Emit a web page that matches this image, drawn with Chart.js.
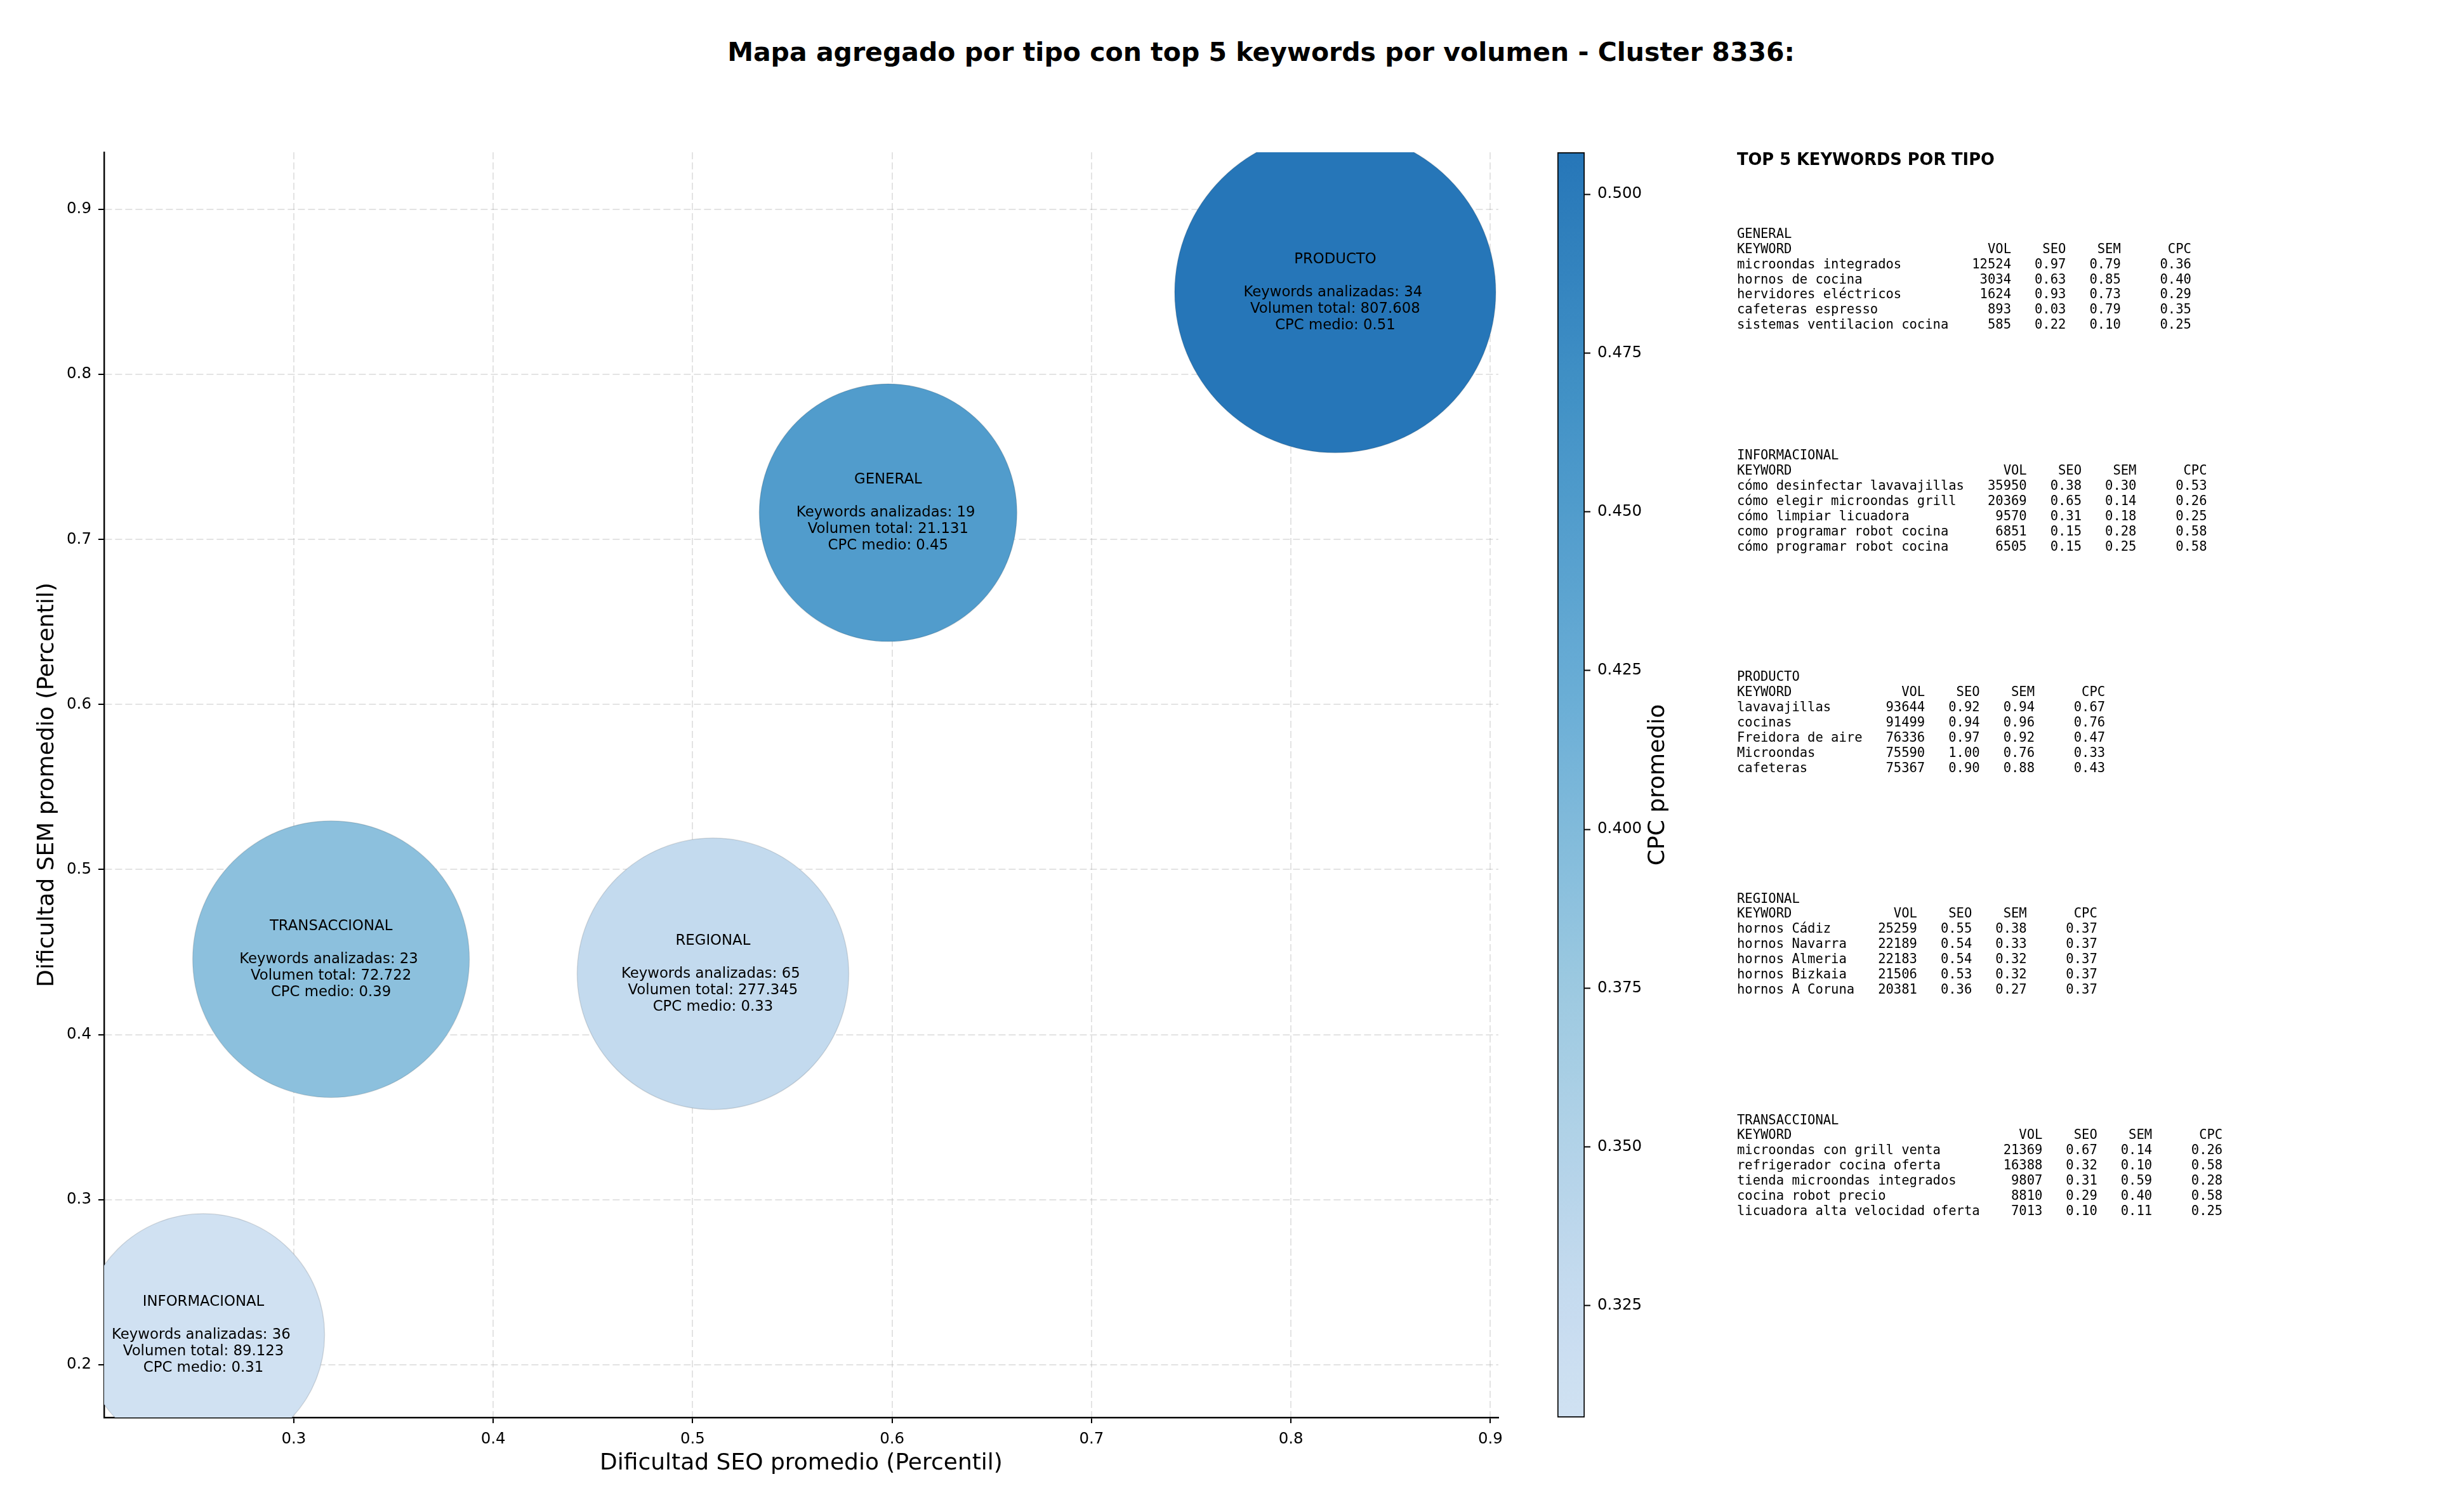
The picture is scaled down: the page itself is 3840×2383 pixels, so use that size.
<!DOCTYPE html>
<html>
<head>
<meta charset="utf-8">
<script src="https://cdn.jsdelivr.net/npm/chart.js@4.4.0/dist/chart.umd.min.js"></script>
<style>
  body { margin: 0; background: #fff; width: 3840px; height: 2383px; position: relative; overflow: hidden; }
  #main { position: absolute; left: 0; top: 0; }
  #cbar { position: absolute; left: 2380px; top: 0; }
  #titulo { position: absolute; left: 1987px; top: 58.6px; transform: translateX(-50%); white-space: nowrap;
            font: bold 41px 'DejaVu Sans'; line-height: 1.164; color: #000; }
  #toptitulo { position: absolute; left: 2737px; top: 237px; font: bold 25.7px 'DejaVu Sans'; line-height: 1.164; color: #000; }
  pre.tabla { position: absolute; left: 2737px; margin: 0; font: 20.5px 'DejaVu Sans Mono'; line-height: 23.9px; color: #000; }
</style>
</head>
<body>
<div id="titulo">Mapa agregado por tipo con top 5 keywords por volumen - Cluster 8336:</div>
<canvas id="main" width="2380" height="2383"></canvas>
<canvas id="cbar" width="400" height="2383"></canvas>
<div id="toptitulo">TOP 5 KEYWORDS POR TIPO</div>
<script>
// datos agregados por tipo
var tipos = ['GENERAL', 'INFORMACIONAL', 'PRODUCTO', 'REGIONAL', 'TRANSACCIONAL'];
var seoMedio = [0.598, 0.2547, 0.8222, 0.5102, 0.3187];
var semMedio = [0.7162, 0.2181, 0.8498, 0.4368, 0.4457];
var cpcMedio = [0.450, 0.3074, 0.5066, 0.330, 0.390];
var numKeywords = [19, 36, 34, 65, 23];
var volumenTotal = [21131, 89123, 807608, 277345, 72722];
var tamanoBurbuja = [203, 191, 253, 214, 218];

var xTicks = [0.3, 0.4, 0.5, 0.6, 0.7, 0.8, 0.9];
var yTicks = [0.2, 0.3, 0.4, 0.5, 0.6, 0.7, 0.8, 0.9];
var cbarTicks = [0.325, 0.350, 0.375, 0.400, 0.425, 0.450, 0.475, 0.500];

// top 5 keywords: keyword, vol, seo, sem, cpc
var topGeneral = [
  ['microondas integrados', 12524, 0.97, 0.79, 0.36],
  ['hornos de cocina', 3034, 0.63, 0.85, 0.40],
  ['hervidores eléctricos', 1624, 0.93, 0.73, 0.29],
  ['cafeteras espresso', 893, 0.03, 0.79, 0.35],
  ['sistemas ventilacion cocina', 585, 0.22, 0.10, 0.25]
];
var topInformacional = [
  ['cómo desinfectar lavavajillas', 35950, 0.38, 0.30, 0.53],
  ['cómo elegir microondas grill', 20369, 0.65, 0.14, 0.26],
  ['cómo limpiar licuadora', 9570, 0.31, 0.18, 0.25],
  ['como programar robot cocina', 6851, 0.15, 0.28, 0.58],
  ['cómo programar robot cocina', 6505, 0.15, 0.25, 0.58]
];
var topProducto = [
  ['lavavajillas', 93644, 0.92, 0.94, 0.67],
  ['cocinas', 91499, 0.94, 0.96, 0.76],
  ['Freidora de aire', 76336, 0.97, 0.92, 0.47],
  ['Microondas', 75590, 1.00, 0.76, 0.33],
  ['cafeteras', 75367, 0.90, 0.88, 0.43]
];
var topRegional = [
  ['hornos Cádiz', 25259, 0.55, 0.38, 0.37],
  ['hornos Navarra', 22189, 0.54, 0.33, 0.37],
  ['hornos Almeria', 22183, 0.54, 0.32, 0.37],
  ['hornos Bizkaia', 21506, 0.53, 0.32, 0.37],
  ['hornos A Coruna', 20381, 0.36, 0.27, 0.37]
];
var topTransaccional = [
  ['microondas con grill venta', 21369, 0.67, 0.14, 0.26],
  ['refrigerador cocina oferta', 16388, 0.32, 0.10, 0.58],
  ['tienda microondas integrados', 9807, 0.31, 0.59, 0.28],
  ['cocina robot precio', 8810, 0.29, 0.40, 0.58],
  ['licuadora alta velocidad oferta', 7013, 0.10, 0.11, 0.25]
];

// mapa de color Blues (recortado)
var blues = [
  [0, 247, 251, 255], [0.125, 222, 235, 247], [0.25, 198, 219, 239], [0.375, 158, 202, 225],
  [0.5, 107, 174, 214], [0.625, 66, 146, 198], [0.75, 33, 113, 181], [0.875, 8, 81, 156], [1, 8, 48, 107]
];
var cpcMin = Math.min.apply(null, cpcMedio);
var cpcMax = Math.max.apply(null, cpcMedio);

function colorNorm(n) {
  var t = 0.2 + 0.53 * n;
  for (var k = 1; k < blues.length; k++) {
    if (t <= blues[k][0]) {
      var a = blues[k - 1], b = blues[k];
      var f = (t - a[0]) / (b[0] - a[0]);
      return 'rgb(' + [1, 2, 3].map(function (j) { return Math.round(a[j] + (b[j] - a[j]) * f); }).join(',') + ')';
    }
  }
  return 'rgb(8,48,107)';
}
function colorCPC(v) { return colorNorm((v - cpcMin) / (cpcMax - cpcMin)); }
function miles(v) { return String(v).replace(/\B(?=(\d{3})+(?!\d))/g, '.'); }

var fuente = 'DejaVu Sans';

var etiquetas = {
  id: 'etiquetas',
  afterDraw: function (chart) {
    var ctx = chart.ctx, xs = chart.scales.x, ys = chart.scales.y;
    ctx.save();
    ctx.font = '22.8px "' + fuente + '"';
    ctx.fillStyle = '#000';
    ctx.textAlign = 'center';
    ctx.textBaseline = 'middle';
    tipos.forEach(function (t, i) {
      var px = xs.getPixelForValue(seoMedio[i]);
      var py = ys.getPixelForValue(semMedio[i]);
      var lineas = [t, '', 'Keywords analizadas: ' + numKeywords[i] + ' ',
        'Volumen total: ' + miles(volumenTotal[i]), 'CPC medio: ' + cpcMedio[i].toFixed(2)];
      lineas.forEach(function (l, k) { ctx.fillText(l, px, py + (k - 2) * 26); });
    });
    ctx.restore();
  }
};

var chart = new Chart(document.getElementById('main'), {
  type: 'bubble',
  data: {
    datasets: [{
      data: tipos.map(function (t, i) { return { x: seoMedio[i], y: semMedio[i], r: tamanoBurbuja[i] }; }),
      backgroundColor: cpcMedio.map(colorCPC),
      borderColor: 'rgba(0,0,0,0.12)',
      borderWidth: 1.5,
      clip: 0
    }]
  },
  options: {
    responsive: false,
    animation: false,
    devicePixelRatio: 1,
    layout: { autoPadding: false, padding: { top: 240, right: 19, left: 0, bottom: 0 } },
    plugins: { legend: { display: false }, tooltip: { enabled: false } },
    scales: {
      x: {
        type: 'linear', min: 0.2049, max: 0.904, z: 1,
        afterBuildTicks: function (s) { s.ticks = xTicks.map(function (v) { return { value: v }; }); },
        afterFit: function (s) { s.height = 149; },
        ticks: { font: { family: fuente, size: 24.5 }, color: '#000', padding: 11,
                 callback: function (v) { return Number(v).toFixed(1); } },
        grid: { color: 'rgba(176,176,176,0.35)', lineWidth: 2, tickColor: '#000', tickLength: 9, tickWidth: 2 },
        border: { color: '#000', width: 2.4, dash: [11, 5] },
        title: { display: true, text: 'Dificultad SEO promedio (Percentil)', color: '#000',
                 font: { family: fuente, size: 36 }, padding: { top: 0, bottom: 55 } }
      },
      y: {
        type: 'linear', min: 0.168, max: 0.9346, z: 1,
        afterBuildTicks: function (s) { s.ticks = yTicks.map(function (v) { return { value: v }; }); },
        afterFit: function (s) { s.width = 164; },
        ticks: { font: { family: fuente, size: 24.5 }, color: '#000', padding: 11,
                 callback: function (v) { return Number(v).toFixed(1); } },
        grid: { color: 'rgba(176,176,176,0.35)', lineWidth: 2, tickColor: '#000', tickLength: 9, tickWidth: 2 },
        border: { color: '#000', width: 2.4, dash: [11, 5] },
        title: { display: true, text: 'Dificultad SEM promedio (Percentil)', color: '#000',
                 font: { family: fuente, size: 36 }, padding: { top: 53, bottom: 0 } }
      }
    }
  },
  plugins: [etiquetas]
});

// barra de color
function gradiente(c) {
  var area = c.chartArea;
  if (!area) return colorNorm(0.5);
  var g = c.ctx.createLinearGradient(0, area.bottom, 0, area.top);
  for (var k = 0; k <= 40; k++) g.addColorStop(k / 40, colorNorm(k / 40));
  return g;
}
var etiquetaCbar = {
  id: 'etiquetaCbar',
  afterDraw: function (c) {
    var ctx = c.ctx;
    ctx.save();
    ctx.translate(233, (c.chartArea.top + c.chartArea.bottom) / 2);
    ctx.rotate(-Math.PI / 2);
    ctx.font = '36px "' + fuente + '"';
    ctx.fillStyle = '#000';
    ctx.textAlign = 'center';
    ctx.textBaseline = 'middle';
    ctx.fillText('CPC promedio', 0, 0);
    ctx.restore();
  }
};
new Chart(document.getElementById('cbar'), {
  type: 'bar',
  data: {
    labels: ['CPC'],
    datasets: [{
      data: [[cpcMin, cpcMax]],
      backgroundColor: function (ctx) { return gradiente(ctx.chart); },
      borderColor: '#000', borderWidth: 2, borderSkipped: false,
      barPercentage: 1, categoryPercentage: 1
    }]
  },
  options: {
    responsive: false,
    animation: false,
    devicePixelRatio: 1,
    layout: { padding: { left: 74, top: 240, right: 0, bottom: 149 } },
    plugins: { legend: { display: false }, tooltip: { enabled: false } },
    scales: {
      x: { display: false },
      y: {
        position: 'right', min: cpcMin, max: cpcMax,
        afterBuildTicks: function (s) { s.ticks = cbarTicks.map(function (v) { return { value: v }; }); },
        afterFit: function (s) { s.width = 283; },
        ticks: { font: { family: fuente, size: 24.5 }, color: '#000', padding: 11,
                 callback: function (v) { return Number(v).toFixed(3); } },
        grid: { drawOnChartArea: false, tickColor: '#000', tickLength: 9, tickWidth: 2 },
        border: { display: false }
      }
    }
  },
  plugins: [etiquetaCbar]
});

// tablas de texto
function tabla(nombre, filas) {
  var w = Math.max.apply(null, filas.map(function (f) { return f[0].length; }));
  var out = [nombre, 'KEYWORD'.padEnd(w) + '  ' + 'VOL'.padStart(6) + '  ' + 'SEO'.padStart(5) + '  ' + 'SEM'.padStart(5) + '  ' + 'CPC'.padStart(7)];
  filas.forEach(function (f) {
    out.push(f[0].padEnd(w) + '  ' + String(f[1]).padStart(6) + '  ' + f[2].toFixed(2).padStart(5) + '  ' +
      f[3].toFixed(2).padStart(5) + '  ' + f[4].toFixed(2).padStart(7));
  });
  return out.join('\n');
}
var bloques = [['GENERAL', topGeneral], ['INFORMACIONAL', topInformacional], ['PRODUCTO', topProducto],
               ['REGIONAL', topRegional], ['TRANSACCIONAL', topTransaccional]];
var topsBloque = [356.8, 706.2, 1055.2, 1404.5, 1753.5];
bloques.forEach(function (b, i) {
  var pre = document.createElement('pre');
  pre.className = 'tabla';
  pre.style.top = topsBloque[i] + 'px';
  pre.textContent = tabla(b[0], b[1]);
  document.body.appendChild(pre);
});
</script>
</body>
</html>
